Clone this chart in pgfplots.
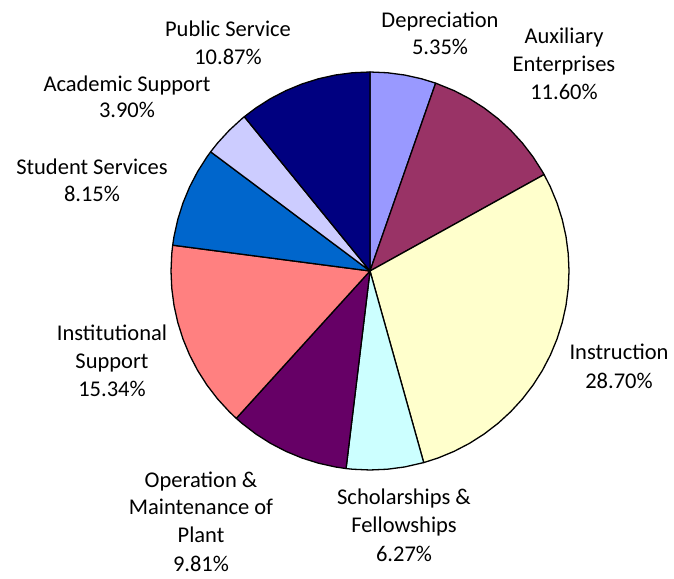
\documentclass[border=0pt]{standalone}
\usepackage{pgfplots}
\pgfplotsset{compat=1.18}
\usepgfplotslibrary{polar}
\usepackage{fontspec}
\setmainfont{Carlito}

% Excel-style palette
\definecolor{cDep}{HTML}{9999FF}
\definecolor{cAux}{HTML}{993366}
\definecolor{cIns}{HTML}{FFFFCC}
\definecolor{cSch}{HTML}{CCFFFF}
\definecolor{cOpe}{HTML}{660066}
\definecolor{cInt}{HTML}{FF8080}
\definecolor{cStu}{HTML}{0066CC}
\definecolor{cAca}{HTML}{CCCCFF}
\definecolor{cPub}{HTML}{000080}

\begin{document}
\begin{tikzpicture}[x=1bp,y=1bp,
  lbl/.style={anchor=base, inner sep=0pt, font=\fontsize{22.5bp}{27.5bp}\selectfont}]
\path (0,0) rectangle (674,579);

% shares (%): 5.35 11.60 28.70 6.27 9.81 15.34 8.15 3.90 10.87
% clockwise from 12 o'clock, angle = 90 - 3.6*cumulative share
\begin{polaraxis}[
  at={(370bp,308bp)}, anchor=center,
  scale only axis, width=398bp, height=398bp,
  xmin=0, xmax=360, ymin=0, ymax=1,
  hide axis, clip=false,
  every axis plot/.append style={draw=black, line width=1.3bp, line join=round, mark=none},
]
% Depreciation
\addplot[fill=cDep] coordinates {(0,0) (90,1) (85,1) (80,1) (75,1) (70.74,1) (0,0)};
% Auxiliary Enterprises
\addplot[fill=cAux] coordinates {(0,0) (70.74,1) (65,1) (60,1) (55,1) (50,1) (45,1) (40,1) (35,1) (30,1) (28.98,1) (0,0)};
% Instruction
\addplot[fill=cIns] coordinates {(0,0) (28.98,1) (25,1) (20,1) (15,1) (10,1) (5,1) (0,1) (355,1) (350,1) (345,1) (340,1) (335,1) (330,1) (325,1) (320,1) (315,1) (310,1) (305,1) (300,1) (295,1) (290,1) (285.66,1) (0,0)};
% Scholarships & Fellowships
\addplot[fill=cSch] coordinates {(0,0) (285.66,1) (280,1) (275,1) (270,1) (265,1) (263.088,1) (0,0)};
% Operation & Maintenance of Plant
\addplot[fill=cOpe] coordinates {(0,0) (263.088,1) (260,1) (255,1) (250,1) (245,1) (240,1) (235,1) (230,1) (227.772,1) (0,0)};
% Institutional Support
\addplot[fill=cInt] coordinates {(0,0) (227.772,1) (225,1) (220,1) (215,1) (210,1) (205,1) (200,1) (195,1) (190,1) (185,1) (180,1) (175,1) (172.548,1) (0,0)};
% Student Services
\addplot[fill=cStu] coordinates {(0,0) (172.548,1) (170,1) (165,1) (160,1) (155,1) (150,1) (145,1) (143.208,1) (0,0)};
% Academic Support
\addplot[fill=cAca] coordinates {(0,0) (143.208,1) (140,1) (135,1) (130,1) (129.168,1) (0,0)};
% Public Service
\addplot[fill=cPub] coordinates {(0,0) (129.168,1) (125,1) (120,1) (115,1) (110,1) (105,1) (100,1) (95,1) (90,1) (0,0)};
\end{polaraxis}

% labels (baselines measured from the top of the picture)
\node[lbl] at (228,579-37) {Public Service};
\node[lbl] at (228,579-65) {10.87\%};
\node[lbl] at (440,579-28) {Depreciation};
\node[lbl] at (440,579-55) {5.35\%};
\node[lbl] at (564,579-44) {Auxiliary};
\node[lbl] at (564,579-72) {Enterprises};
\node[lbl] at (564,579-100) {11.60\%};
\node[lbl] at (127,579-92) {Academic Support};
\node[lbl] at (127,579-118) {3.90\%};
\node[lbl] at (92,579-175) {Student Services};
\node[lbl] at (92,579-202) {8.15\%};
\node[lbl] at (112,579-341) {Institutional};
\node[lbl] at (112,579-369) {Support};
\node[lbl] at (112,579-397) {15.34\%};
\node[lbl] at (619,579-360) {Instruction};
\node[lbl] at (619,579-389) {28.70\%};
\node[lbl] at (201,579-488) {Operation \&};
\node[lbl] at (201,579-515) {Maintenance of};
\node[lbl] at (201,579-543) {Plant};
\node[lbl] at (201,579-572) {9.81\%};
\node[lbl] at (404,579-505) {Scholarships \&};
\node[lbl] at (404,579-533) {Fellowships};
\node[lbl] at (404,579-562) {6.27\%};
\end{tikzpicture}
\end{document}
